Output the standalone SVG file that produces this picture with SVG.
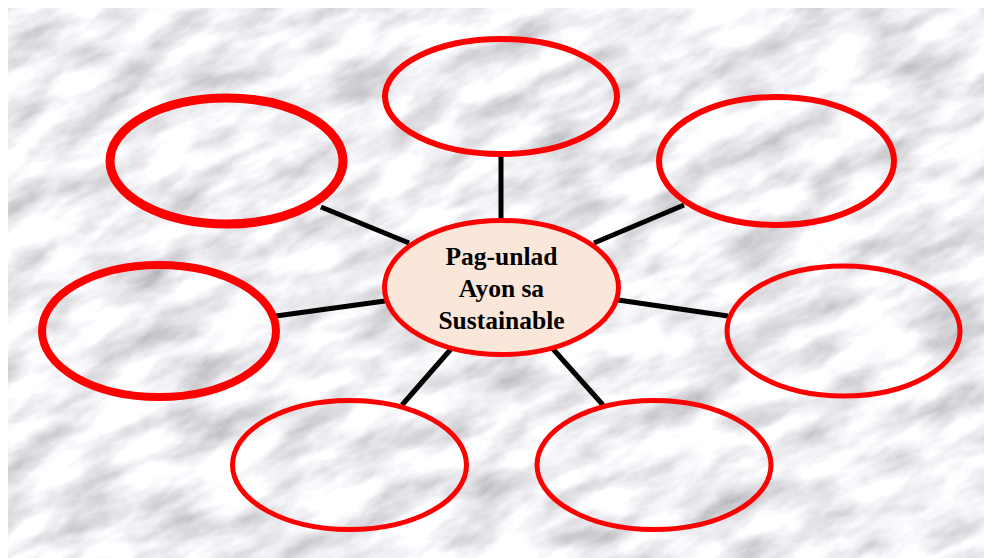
<svg xmlns="http://www.w3.org/2000/svg" width="984" height="558" viewBox="0 0 984 558">
  <style>
    .bubble { fill: none; stroke: #ff0000; }
    .link { stroke: #000000; stroke-width: 5; stroke-linecap: butt; }
    .center { fill: #fbe7da; stroke: #ff0000; stroke-width: 5; }
    .label { font-family: "Liberation Serif", "Times New Roman", serif; font-weight: bold; font-size: 25.5px; fill: #000000; text-anchor: middle; }
  </style>
  <defs>
    <filter id="marble" x="0" y="0" width="1" height="1" filterUnits="objectBoundingBox">
      <feTurbulence type="fractalNoise" baseFrequency="0.014 0.035" numOctaves="6" seed="11" result="n"/>
      <feColorMatrix in="n" type="matrix" values="0.95 0 0 0 0.40  0.95 0 0 0 0.40  0.95 0 0 0 0.43  0 0 0 0 1"/>
    </filter>
    <clipPath id="bgclip">
      <rect x="8" y="8" width="976" height="550"/>
    </clipPath>
  </defs>
  <rect x="0" y="0" width="984" height="558" fill="#ffffff"/>
  <g id="background" clip-path="url(#bgclip)">
    <rect x="8" y="8" width="976" height="550" fill="#e6e6ea"/>
    <g transform="rotate(-25 496 283)">
      <rect x="-300" y="-400" width="1600" height="1400" filter="url(#marble)"/>
    </g>
  </g>
  <g id="connectors">
    <line class="link" x1="501" y1="157" x2="501" y2="219"/>
    <line class="link" x1="321" y1="207" x2="409" y2="243"/>
    <line class="link" x1="594" y1="243" x2="684" y2="205"/>
    <line class="link" x1="276" y1="316" x2="385" y2="301"/>
    <line class="link" x1="618" y1="300" x2="728" y2="316"/>
    <line class="link" x1="402" y1="405" x2="451" y2="349"/>
    <line class="link" x1="553" y1="349" x2="603" y2="405"/>
  </g>
  <g id="node-top">
    <ellipse class="bubble" cx="501" cy="96.5" rx="116" ry="57.5" stroke-width="6"/>
  </g>
  <g id="node-upper-left">
    <ellipse class="bubble" cx="226.5" cy="161" rx="116.5" ry="63" stroke-width="9"/>
  </g>
  <g id="node-upper-right">
    <ellipse class="bubble" cx="776.5" cy="161" rx="117.5" ry="64" stroke-width="6"/>
  </g>
  <g id="node-left">
    <ellipse class="bubble" cx="159" cy="331" rx="117" ry="66" stroke-width="8"/>
  </g>
  <g id="node-right">
    <ellipse class="bubble" cx="843.5" cy="331" rx="116.5" ry="65" stroke-width="5"/>
  </g>
  <g id="node-bottom-left">
    <ellipse class="bubble" cx="349.5" cy="465" rx="117" ry="64.5" stroke-width="5"/>
  </g>
  <g id="node-bottom-right">
    <ellipse class="bubble" cx="654" cy="465" rx="117" ry="64.5" stroke-width="5"/>
  </g>
  <g id="node-center">
    <ellipse class="center" cx="501.5" cy="287.5" rx="117" ry="67"/>
    <text class="label" x="501.5" y="265">Pag-unlad</text>
    <text class="label" x="501.5" y="297">Ayon sa</text>
    <text class="label" x="501.5" y="329">Sustainable</text>
  </g>
</svg>
